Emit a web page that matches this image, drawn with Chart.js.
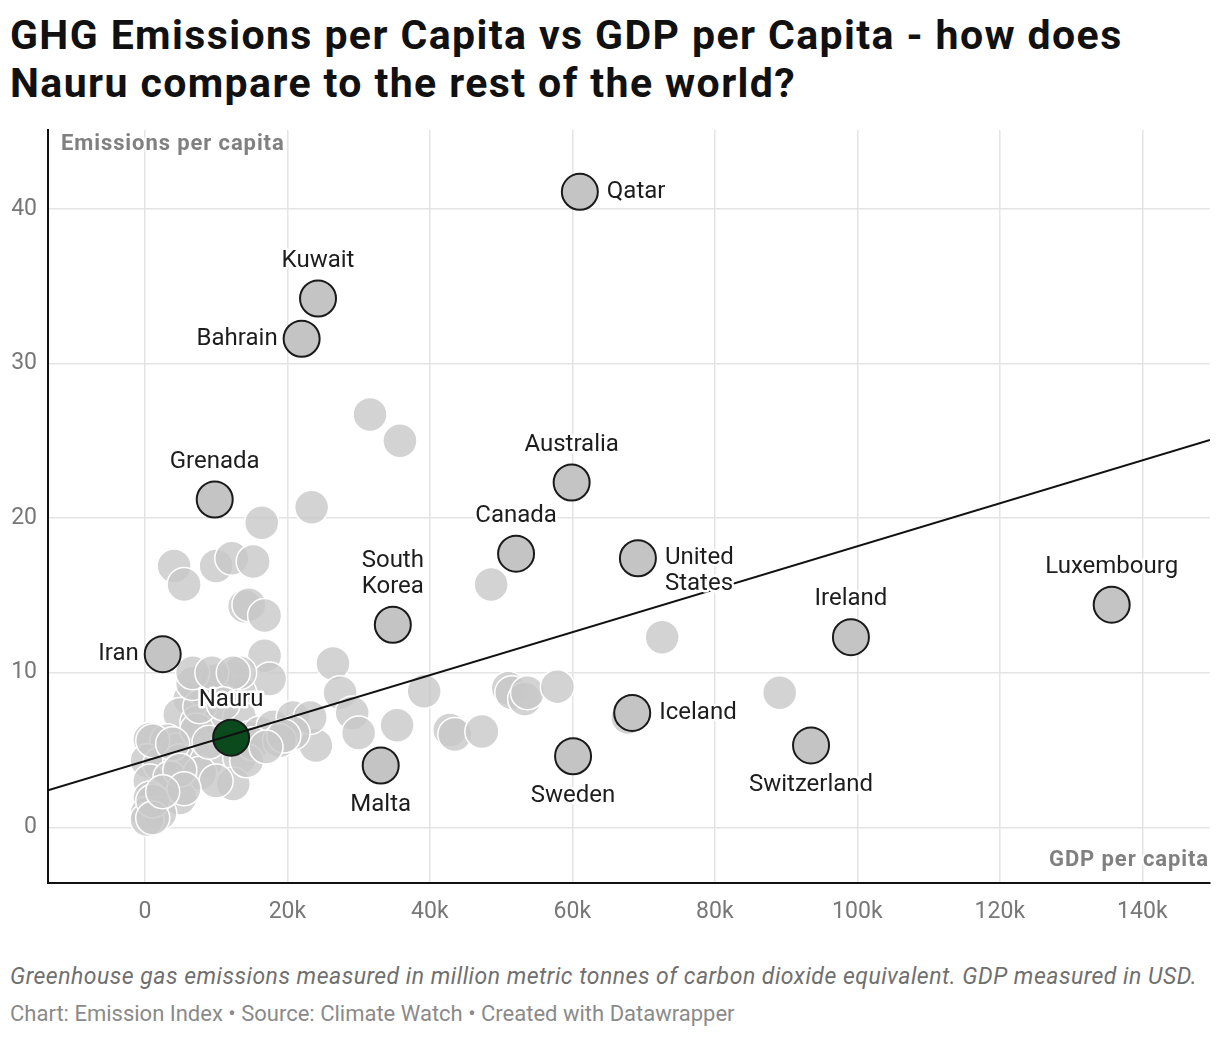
<!DOCTYPE html>
<html>
<head>
<meta charset="utf-8">
<script src="https://cdn.jsdelivr.net/npm/chart.js@4.4.1/dist/chart.umd.min.js"></script>
<style>
  body { margin: 0; background: #fff; font-family: Roboto, sans-serif; }
  #title { position: absolute; left: 10px; top: 11px; font-weight: 700; font-size: 41px; letter-spacing: 1.4px; line-height: 48px; color: #111; }
  #wrap { position: absolute; left: 0; top: 120px; width: 1220px; height: 820px; }
  #note { position: absolute; left: 10px; top: 963px; font-style: italic; font-size: 23px; letter-spacing: 0.5px; color: #6f6f6f; }
  #source { position: absolute; left: 10px; top: 1001px; font-size: 22px; color: #8a8a8a; }
</style>
</head>
<body>
<div id="title">GHG Emissions per Capita vs GDP per Capita - how does<br>Nauru compare to the rest of the world?</div>
<div id="wrap"><canvas id="scatterChart"></canvas></div>
<div id="note">Greenhouse gas emissions measured in million metric tonnes of carbon dioxide equivalent. GDP measured in USD.</div>
<div id="source">Chart: Emission Index • Source: Climate Watch • Created with Datawrapper</div>
<script>
// highlighted countries
var hlNames = ['Qatar', 'Kuwait', 'Bahrain', 'Grenada', 'Australia', 'Canada', 'United States', 'South Korea',
  'Luxembourg', 'Ireland', 'Iran', 'Iceland', 'Switzerland', 'Sweden', 'Malta'];
var hlGdp = [61050, 24300, 22000, 9800, 59900, 52100, 69200, 34800, 135700, 99100, 2500, 68400, 93500, 60100, 33100];
var hlEm = [41.1, 34.2, 31.6, 21.2, 22.3, 17.7, 17.4, 13.1, 14.4, 12.3, 11.2, 7.4, 5.3, 4.6, 4.0];

var nauruGdp = [12100];
var nauruEm = [5.8];

// rest of the world
var otherGdp = [31600, 35800, 23400, 16400, 4100, 5500, 10000, 12200, 15200, 14000, 14600, 16800, 16800, 17500,
  48600, 72600, 26400, 27400, 39200, 29100, 30000, 35400, 24000, 42800, 43500, 47300, 51000, 51500, 53300, 53700,
  57900, 67800, 89100,
  7000, 9500, 12400, 6300, 8700, 13300, 4900, 7300, 10500, 13300, 700, 3100, 4500, 7300, 14700, 16100, 18000,
  20800, 23200, 20800, 300, 2100, 4900, 8700, 13300, 700, 3500, 7700, 12400, 4900, 700, 300, 2100, 300, 1100,
  3900, 7700, 6700, 10100, 13300, 15200, 18900, 4900, 1100, 1100, 14300, 6700, 9400, 12400, 19500, 17000, 10000,
  9000, 11000, 5500, 2500];
var otherEm = [26.7, 25.0, 20.7, 19.7, 16.9, 15.7, 16.9, 17.4, 17.2, 14.3, 14.4, 13.7, 11.1, 9.6,
  15.7, 12.3, 10.6, 8.7, 8.8, 7.4, 6.1, 6.6, 5.3, 6.3, 6.0, 6.2, 9.0, 8.7, 8.3, 8.7,
  9.1, 7.1, 8.7,
  9.4, 9.5, 9.7, 8.3, 8.4, 8.7, 7.3, 6.8, 6.9, 7.1, 5.7, 5.6, 5.0, 6.3, 5.8, 6.1, 6.5,
  7.1, 7.1, 6.1, 4.3, 4.1, 4.3, 4.3, 4.5, 3.0, 3.2, 3.5, 2.8, 1.9, 1.9, 0.9, 0.9, 0.5, 5.6,
  5.4, 7.8, 9.3, 9.5, 10.0, 5.4, 5.6, 3.7, 1.7, 0.6, 4.3, 10.0, 10.0, 10.0, 5.9, 5.2, 3.0,
  5.5, 8.0, 2.5, 2.3];

// trend line end points
var trendGdp = [-13600, 149500];
var trendEm = [2.4, 25.05];

var xTickVals = [0, 20000, 40000, 60000, 80000, 100000, 120000, 140000];
var xTickLabels = ['0', '20k', '40k', '60k', '80k', '100k', '120k', '140k'];
var yTickVals = [0, 10, 20, 30, 40];
var yTickLabels = ['0', '10', '20', '30', '40'];

var labelPlace = {
  'Qatar': 'right', 'Kuwait': 'above', 'Bahrain': 'left', 'Grenada': 'above', 'Australia': 'above',
  'Canada': 'above', 'United States': 'right', 'South Korea': 'above', 'Luxembourg': 'above',
  'Ireland': 'above', 'Iran': 'left', 'Iceland': 'right', 'Switzerland': 'below', 'Sweden': 'below',
  'Malta': 'below', 'Nauru': 'above'
};
var labelLines = { 'United States': ['United', 'States'], 'South Korea': ['South', 'Korea'] };

var toPoints = (xs, ys) => xs.map((x, i) => ({ x: x, y: ys[i] }));

var drawLabel = (ctx, name, px, py) => {
  let lines = labelLines[name] || [name];
  let place = labelPlace[name];
  let lh = 26;
  let x = px, y;
  if (place === 'above') {
    ctx.textAlign = 'center';
    y = py - 38 - lh * (lines.length - 1);
  } else if (place === 'below') {
    ctx.textAlign = 'center';
    y = py + 40;
  } else if (place === 'left') {
    ctx.textAlign = 'right';
    x = px - 24;
    y = py;
  } else {
    ctx.textAlign = 'left';
    x = px + 27;
    y = py;
  }
  lines.forEach((t, i) => {
    ctx.strokeText(t, x, y + i * lh);
    ctx.fillText(t, x, y + i * lh);
  });
};

var labelPlugin = {
  id: 'pointLabels',
  afterDraw(chart) {
    let ctx = chart.ctx;
    let area = chart.chartArea;
    ctx.save();
    ctx.font = '24px Roboto';
    ctx.textBaseline = 'middle';
    ctx.fillStyle = '#1d1d1d';
    ctx.strokeStyle = '#fff';
    ctx.lineWidth = 5;
    ctx.lineJoin = 'round';
    chart.getDatasetMeta(1).data.forEach((pt, i) => drawLabel(ctx, hlNames[i], pt.x, pt.y));
    chart.getDatasetMeta(2).data.forEach((pt) => drawLabel(ctx, 'Nauru', pt.x, pt.y));

    // axis titles
    ctx.font = 'bold 22px Roboto';
    ctx.letterSpacing = '0.9px';
    ctx.fillStyle = '#808080';
    ctx.lineWidth = 4;
    ctx.textAlign = 'left';
    ctx.strokeText('Emissions per capita', area.left + 13, area.top + 14);
    ctx.fillText('Emissions per capita', area.left + 13, area.top + 14);
    ctx.textAlign = 'right';
    ctx.strokeText('GDP per capita', area.right - 1, area.bottom - 23);
    ctx.fillText('GDP per capita', area.right - 1, area.bottom - 23);
    ctx.restore();
  }
};

var noPad = (s) => { s.paddingTop = 0; s.paddingBottom = 0; s.paddingLeft = 0; s.paddingRight = 0; };

var ctxS = document.getElementById('scatterChart').getContext('2d');
var myScatterChart = new Chart(ctxS, {
  type: 'scatter',
  data: {
    datasets: [{
      label: 'Other countries',
      data: toPoints(otherGdp, otherEm),
      backgroundColor: 'rgba(200, 200, 200, 0.8)',
      borderColor: '#ffffff',
      borderWidth: 1.5,
      pointRadius: 17,
      order: 4
    },
    {
      label: 'Highlighted',
      data: toPoints(hlGdp, hlEm),
      backgroundColor: '#c4c4c4',
      borderColor: '#1a1a1a',
      borderWidth: 2,
      pointRadius: 18,
      order: 3
    },
    {
      label: 'Nauru',
      data: toPoints(nauruGdp, nauruEm),
      backgroundColor: '#0b4a1c',
      borderColor: '#1a1a1a',
      borderWidth: 2,
      pointRadius: 18,
      order: 2
    },
    {
      type: 'line',
      label: 'Trend',
      data: toPoints(trendGdp, trendEm),
      borderColor: '#111',
      borderWidth: 2,
      pointRadius: 0,
      fill: false,
      order: 1
    }]
  },
  options: {
    responsive: true,
    maintainAspectRatio: false,
    animation: false,
    events: [],
    layout: { autoPadding: false, padding: { top: 10, right: 10, left: 0, bottom: 0 } },
    plugins: { legend: { display: false }, tooltip: { enabled: false } },
    scales: {
      x: {
        type: 'linear',
        min: -13600,
        max: 149500,
        afterFit: (s) => { s.height = 57; noPad(s); },
        afterBuildTicks: (s) => { s.ticks = xTickVals.map(v => ({ value: v })); },
        grid: { color: '#e4e4e4', lineWidth: 1.5, drawTicks: false },
        border: { display: true, color: '#111', width: 2 },
        ticks: {
          padding: 15,
          color: '#777',
          font: { family: 'Roboto', size: 23 },
          maxRotation: 0,
          autoSkip: false,
          callback: (v, i) => xTickLabels[i]
        }
      },
      y: {
        type: 'linear',
        min: -3.6,
        max: 45.1,
        afterFit: (s) => { s.width = 48; noPad(s); },
        afterBuildTicks: (s) => { s.ticks = yTickVals.map(v => ({ value: v })); },
        grid: { color: '#e4e4e4', lineWidth: 1.5, drawTicks: false },
        border: { display: true, color: '#111', width: 2 },
        ticks: {
          padding: 11,
          color: '#777',
          font: { family: 'Roboto', size: 23 },
          autoSkip: false,
          callback: (v, i) => yTickLabels[i]
        }
      }
    }
  },
  plugins: [labelPlugin]
});
</script>
</body>
</html>
